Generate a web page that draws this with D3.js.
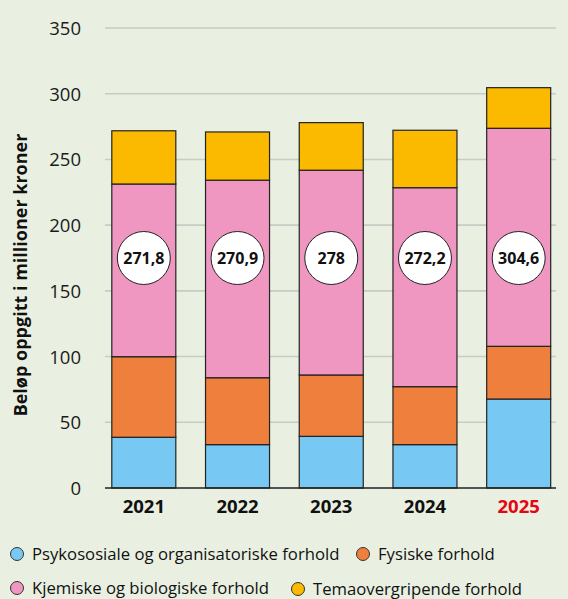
<!DOCTYPE html>
<html><head><meta charset="utf-8">
<script src="https://cdn.jsdelivr.net/npm/d3@7"></script>
<style>
html,body{margin:0;padding:0;background:#e9f0e1;}
svg{display:block;font-family:"Open Sans","Noto Sans",sans-serif;}
</style></head>
<body>
<svg id="c" width="568" height="599"></svg>
<script>
const years = ["2021","2022","2023","2024","2025"];
const seriesNames = ["Psykososiale og organisatoriske forhold","Fysiske forhold","Kjemiske og biologiske forhold","Temaovergripende forhold"];
const psykososiale = [38.6, 33.0, 39.3, 33.0, 67.7];
const fysiske = [61.3, 50.9, 46.7, 44.1, 40.1];
const kjemiske = [131.4, 150.3, 155.8, 151.4, 165.9];
const tema = [40.5, 36.7, 36.2, 43.7, 30.9];
const totals = ["271,8","270,9","278","272,2","304,6"];
const yTicks = [0,50,100,150,200,250,300,350];
const colors = ["#77c9f3","#ef7f3d","#ef97c1","#fbb900"];

const svg = d3.select("#c");
const y = d3.scaleLinear().domain([0,350]).range([488,28]);
const x = d3.scaleBand().domain(years).range([97,565.5]).paddingInner(0.317).paddingOuter(0.158);

// gridlines
svg.append("g").selectAll("line").data(yTicks.filter(d=>d>0)).join("line")
  .attr("x1",105).attr("x2",556).attr("y1",d=>y(d)).attr("y2",d=>y(d))
  .attr("stroke","#c9cbc4").attr("stroke-width",1.6);

// y axis labels
const yAxis = d3.axisLeft(y).tickValues(yTicks).tickSize(0).tickPadding(0);
const ga = svg.append("g").attr("transform","translate(81,0)").call(yAxis);
ga.select(".domain").remove();
ga.selectAll("text").attr("font-size",18.5).attr("fill","#1a1a1a")
  .attr("font-family","'Open Sans','Noto Sans',sans-serif").attr("dy","0.35em");

// stacked data
const rows = years.map((yr,i)=>({year:yr, s0:psykososiale[i], s1:fysiske[i], s2:kjemiske[i], s3:tema[i]}));
const stack = d3.stack().keys(["s0","s1","s2","s3"])(rows);

svg.append("g").selectAll("g").data(stack).join("g")
  .attr("fill",(d,i)=>colors[i])
  .selectAll("rect").data(d=>d).join("rect")
  .attr("x",d=>x(d.data.year)).attr("width",x.bandwidth())
  .attr("y",d=>y(d[1])).attr("height",d=>y(d[0])-y(d[1]))
  .attr("stroke","#222").attr("stroke-width",1.2);

// baseline
svg.append("line").attr("x1",105).attr("x2",556).attr("y1",y(0)).attr("y2",y(0))
  .attr("stroke","#222").attr("stroke-width",1.6);

// total circles
const cg = svg.append("g").selectAll("g").data(years).join("g")
  .attr("transform",d=>`translate(${x(d)+x.bandwidth()/2},${y(175)})`);
cg.append("circle").attr("r",26.5).attr("fill","#fff").attr("stroke","#222").attr("stroke-width",1);
cg.append("text").text((d,i)=>totals[i]).attr("text-anchor","middle").attr("dy","0.36em")
  .attr("font-size",16).attr("font-weight","bold").attr("fill","#111");

// year labels
svg.append("g").selectAll("text").data(years).join("text")
  .attr("x",d=>x(d)+x.bandwidth()/2).attr("y",513).attr("text-anchor","middle")
  .attr("font-size",18.5).attr("font-weight","bold")
  .attr("fill",(d,i)=>i===years.length-1?"#e30613":"#111").text(d=>d);

// y label
svg.append("text").attr("transform","translate(27,275) rotate(-90)")
  .attr("text-anchor","middle").attr("font-size",18).attr("font-weight","bold")
  .attr("fill","#111").text("Beløp oppgitt i millioner kroner");

// legend
const legendPos = [[17,554],[363,554],[17,588],[298,589]];
const lg = svg.append("g").selectAll("g").data(seriesNames).join("g")
  .attr("transform",(d,i)=>`translate(${legendPos[i][0]},${legendPos[i][1]})`);
lg.append("circle").attr("r",6.5).attr("fill",(d,i)=>colors[i]).attr("stroke","#333").attr("stroke-width",1);
lg.append("text").attr("x",15).attr("dy","0.35em").attr("font-size",16.7).attr("fill","#111").text(d=>d);
</script>
</body></html>
